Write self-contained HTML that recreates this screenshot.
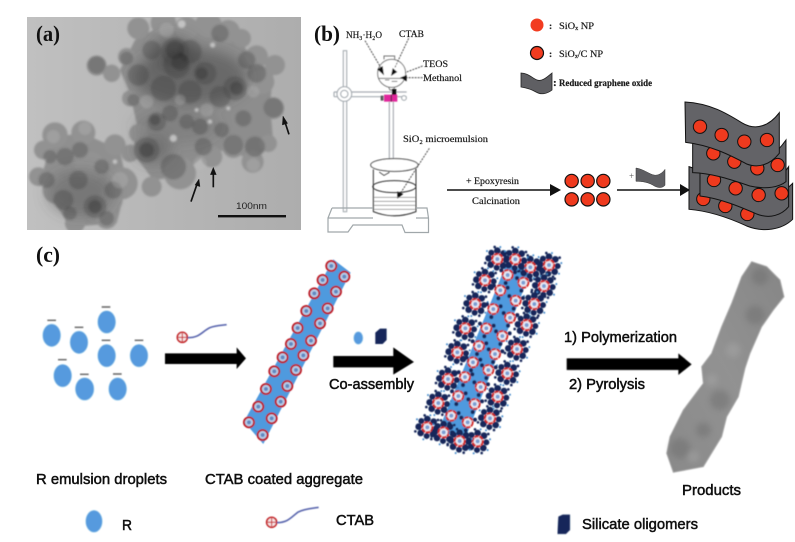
<!DOCTYPE html>
<html><head><meta charset="utf-8"><style>
html,body{margin:0;padding:0;background:#fff;width:795px;height:542px;overflow:hidden}
svg{display:block}
.s{font-family:"Liberation Serif",serif}
.a{font-family:"Liberation Sans",sans-serif;fill:#111;stroke:#111;stroke-width:.5}
</style></head><body>
<svg width="795" height="542" viewBox="0 0 795 542" xmlns="http://www.w3.org/2000/svg">
<defs>
<filter id="b3" x="-10%" y="-10%" width="120%" height="120%"><feGaussianBlur stdDeviation="3"/></filter>
<filter id="b1" x="-5%" y="-5%" width="110%" height="110%"><feGaussianBlur stdDeviation="1.2"/></filter>
<filter id="t" x="-5%" y="-20%" width="110%" height="140%"><feGaussianBlur stdDeviation=".35"/></filter>
<filter id="b8" x="-30%" y="-30%" width="160%" height="160%"><feGaussianBlur stdDeviation="9"/></filter>
<filter id="b20" x="-30%" y="-30%" width="160%" height="160%"><feGaussianBlur stdDeviation="20"/></filter>
<linearGradient id="bg" x1="0" y1="0" x2="1" y2="0"><stop offset="0" stop-color="#c0c0c0"/><stop offset=".5" stop-color="#b6b6b6"/><stop offset="1" stop-color="#adadad"/></linearGradient>
<linearGradient id="pr" x1="1" y1="0" x2="0" y2="1"><stop offset="0" stop-color="#868686"/><stop offset=".5" stop-color="#929292"/><stop offset="1" stop-color="#8a8a8a"/></linearGradient>
<g id="ct"><circle r="15" fill="#b6cdea" stroke="#bd1f26" stroke-width="6"/><circle r="6" fill="#6288c0"/></g>
<g id="ri"><circle r="15" fill="#e8ebf6" stroke="#d42a26" stroke-width="6" stroke-dasharray="13 2"/><circle r="6" fill="#7a9dd2"/></g>
<g id="si">
<g fill="#14285a"><circle cx="0" cy="-25" r="10"/><circle cx="19" cy="-17" r="10"/><circle cx="26" cy="3" r="9"/><circle cx="17" cy="20" r="10"/><circle cx="-2" cy="26" r="9"/><circle cx="-20" cy="17" r="10"/><circle cx="-26" cy="-2" r="10"/><circle cx="-18" cy="-19" r="9"/></g>
<g fill="#14285a"><circle cx="-8" cy="-36" r="4"/><circle cx="32" cy="-22" r="4"/><circle cx="-36" cy="12" r="4"/><circle cx="12" cy="35" r="4"/></g>
<g fill="#3f86c9"><circle cx="9" cy="-36" r="3"/><circle cx="37" cy="-6" r="3"/><circle cx="-31" cy="-24" r="3"/><circle cx="-12" cy="36" r="3"/><circle cx="30" cy="26" r="3"/></g>
<use href="#ri"/>
</g>
<g id="sm"><g fill="#14285a"><circle cx="-19" cy="-14" r="6"/><circle cx="22" cy="-8" r="6"/><circle cx="-6" cy="24" r="6"/></g><use href="#ri"/></g>
</defs>

<!-- (a) TEM image -->
<rect x="27" y="17" width="274" height="213" fill="url(#bg)"/>
<g transform="translate(20,10) scale(.3333)">
<svg x="22" y="22" width="820" height="638" viewBox="22 22 820 638">
<g filter="url(#b3)">
<path d="M345,90 L420,50 L640,50 L690,140 L760,190 L750,280 L760,400 L700,450 L620,420 L560,430 L480,500 L400,510 L340,430 L350,340 L330,250 L300,180Z" fill="#8d8d8d"/>
<path d="M70,480 L100,380 L190,370 L300,420 L320,520 L290,640 L150,650 L80,540Z" fill="#8f8f8f"/>
<g fill="#929292">
<circle cx="355" cy="55" r="33"/><circle cx="430" cy="38" r="38"/><circle cx="500" cy="55" r="35"/><circle cx="565" cy="45" r="40"/><circle cx="625" cy="65" r="35"/><circle cx="665" cy="85" r="28"/>
<circle cx="230" cy="167" r="30"/><circle cx="320" cy="140" r="26"/><circle cx="275" cy="190" r="26"/><circle cx="710" cy="140" r="34"/><circle cx="765" cy="165" r="30"/><circle cx="725" cy="215" r="38"/><circle cx="760" cy="295" r="32"/><circle cx="745" cy="400" r="26"/><circle cx="698" cy="455" r="33"/><circle cx="640" cy="410" r="34"/><circle cx="575" cy="440" r="32"/><circle cx="480" cy="490" r="48"/><circle cx="395" cy="530" r="30"/><circle cx="330" cy="430" r="26"/><circle cx="355" cy="370" r="28"/><circle cx="330" cy="265" r="24"/>
<circle cx="190" cy="368" r="36"/><circle cx="105" cy="375" r="38"/><circle cx="285" cy="405" r="32"/><circle cx="70" cy="420" r="28"/><circle cx="55" cy="500" r="28"/><circle cx="210" cy="470" r="45"/><circle cx="305" cy="520" r="48"/><circle cx="110" cy="540" r="42"/><circle cx="270" cy="570" r="38"/><circle cx="165" cy="640" r="30"/><circle cx="260" cy="625" r="32"/>
</g>
</g>
<g filter="url(#b20)" fill="#4a4a4a">
<ellipse cx="510" cy="200" rx="170" ry="85" fill-opacity=".55"/>
<ellipse cx="460" cy="130" rx="70" ry="55" fill-opacity=".45"/>
<ellipse cx="470" cy="350" rx="130" ry="50" fill-opacity=".2"/>
<ellipse cx="400" cy="420" rx="55" ry="40" fill-opacity=".4"/>
<ellipse cx="180" cy="550" rx="100" ry="70" fill-opacity=".35"/>
</g>
<g filter="url(#b3)">
<g fill="#3c3c3c" fill-opacity=".3">
<circle cx="465" cy="125" r="42"/><circle cx="510" cy="125" r="35"/><circle cx="470" cy="165" r="40"/><circle cx="355" cy="195" r="32"/><circle cx="645" cy="235" r="36"/><circle cx="555" cy="190" r="34"/><circle cx="600" cy="260" r="32"/><circle cx="410" cy="335" r="28"/><circle cx="380" cy="420" r="38"/><circle cx="460" cy="470" r="38"/><circle cx="640" cy="405" r="30"/><circle cx="705" cy="410" r="30"/><circle cx="670" cy="325" r="24"/><circle cx="500" cy="335" r="22"/><circle cx="605" cy="360" r="22"/><circle cx="710" cy="190" r="28"/><circle cx="430" cy="235" r="38"/><circle cx="510" cy="245" r="35"/><circle cx="760" cy="293" r="30"/><circle cx="600" cy="70" r="26"/><circle cx="395" cy="120" r="28"/><circle cx="680" cy="150" r="26"/><circle cx="540" cy="350" r="24"/><circle cx="450" cy="310" r="24"/><circle cx="550" cy="410" r="26"/><circle cx="340" cy="270" r="18"/><circle cx="320" cy="145" r="20"/><circle cx="230" cy="165" r="26"/>
<circle cx="225" cy="590" r="34"/><circle cx="130" cy="570" r="30"/><circle cx="175" cy="510" r="28"/><circle cx="135" cy="440" r="26"/><circle cx="245" cy="470" r="22"/><circle cx="80" cy="510" r="24"/><circle cx="180" cy="420" r="24"/><circle cx="90" cy="440" r="20"/><circle cx="280" cy="540" r="26"/><circle cx="260" cy="625" r="22"/><circle cx="150" cy="610" r="20"/>
</g>
<g fill="#2a2a2a" fill-opacity=".35">
<circle cx="465" cy="120" r="28"/><circle cx="480" cy="155" r="26"/><circle cx="650" cy="235" r="20"/><circle cx="380" cy="420" r="22"/><circle cx="225" cy="590" r="20"/><circle cx="405" cy="330" r="16"/><circle cx="545" cy="190" r="18"/>
</g>
<g fill="#bdbdbd" fill-opacity=".28">
<circle cx="440" cy="60" r="22"/><circle cx="700" cy="245" r="18"/><circle cx="560" cy="300" r="20"/><circle cx="480" cy="270" r="16"/><circle cx="380" cy="275" r="20"/><circle cx="540" cy="460" r="20"/><circle cx="700" cy="465" r="20"/><circle cx="300" cy="510" r="24"/><circle cx="100" cy="380" r="20"/><circle cx="195" cy="355" r="20"/>
</g>
<g fill="#d4d4d4" fill-opacity=".75">
<circle cx="485" cy="42" r="12"/><circle cx="578" cy="105" r="8"/><circle cx="460" cy="385" r="11"/><circle cx="570" cy="335" r="7"/><circle cx="530" cy="300" r="6"/><circle cx="285" cy="455" r="7"/><circle cx="625" cy="295" r="6"/>
</g>
</g>
</svg>
<g stroke="#111" fill="#111">
<path d="M807,373 L793,330" stroke-width="5"/><path d="M789,318 L803,340 L787,345Z"/>
<path d="M580,532 V485" stroke-width="5"/><path d="M580,472 L589,494 L571,494Z"/>
<path d="M513,575 L532,520" stroke-width="5"/><path d="M537,507 L540,530 L525,525Z"/>
</g>
</g>
<rect x="218" y="215" width="68" height="2.4" fill="#111"/>
<text x="236" y="209" font-family="Liberation Sans,sans-serif" font-size="9.5" textLength="31" lengthAdjust="spacingAndGlyphs" fill="#222" filter="url(#t)">100nm</text>
<text class="s" x="36" y="41" font-size="22" font-weight="bold" textLength="24" lengthAdjust="spacingAndGlyphs" fill="#111">(a)</text>
<text class="s" x="314" y="41" font-size="22" font-weight="bold" textLength="26" lengthAdjust="spacingAndGlyphs" fill="#111">(b)</text>
<text class="s" x="36" y="262" font-size="22" font-weight="bold" textLength="24" lengthAdjust="spacingAndGlyphs" fill="#111">(c)</text>

<!-- (b) apparatus -->
<g transform="translate(310,10) scale(.3333)" fill="none" filter="url(#b1)">
<g stroke="#a7adb3" stroke-width="3.5">
<path d="M100,122 V605 H110 V122 Z" fill="#fff"/>
<path d="M72,246 H290 M72,260 H290 M72,246 V260"/>
<circle cx="103" cy="252" r="22" fill="#fff"/><circle cx="103" cy="252" r="11" fill="#fff"/>
<path d="M238,275 V445 M250,275 V445"/>
<circle cx="282" cy="264" r="7" fill="#fff"/>
<circle cx="218" cy="264" r="5" fill="#fff"/>
</g>
<g stroke="#777" stroke-width="3">
<circle cx="245" cy="190" r="42" fill="#fff"/>
<path d="M222,148 V138 H254 V148 M205,205 H285"/>
<path d="M236,232 L240,240 H250 L254,232"/>
<path d="M225,210 H238 M245,214 H262"/>
</g>
<rect x="246" y="237" width="13" height="18" fill="#111"/>
<rect x="222" y="254" width="40" height="21" fill="#e0289c"/><rect x="212" y="257" width="8" height="15" fill="#555"/><path d="M244,254 V275" stroke="#333" stroke-width="3"/>
<g stroke="#333" stroke-width="2.5" stroke-dasharray="6 3">
<path d="M165,92 L212,172 M296,85 L255,172 M338,168 L285,188 M338,203 H290 M358,415 L268,555"/>
</g>
<g fill="#111">
<path d="M222,196 L202,178 L218,168Z M243,198 L248,174 L262,186Z M270,203 L290,195 L290,214Z M262,566 L262,544 L280,552Z"/>
</g>
<g stroke="#333" stroke-width="3">
<ellipse cx="253" cy="465" rx="71" ry="19" fill="#fff"/>
<path d="M190,478 L190,605 Q253,630 318,605 V478"/>
<ellipse cx="253" cy="530" rx="65" ry="18"/>
<path d="M192,562 H316 M192,574 H316 M192,586 H316 M192,598 H316" stroke-width="2" stroke="#777"/>
<path d="M208,486 L222,496 L238,487" fill="#fff"/>
</g>
</g>
<path d="M332,208 H373 M416,208 H427 L428.500,218 V232.500 H405 L402,225 H353 L348,232 H328 V218 L332,208 M328,218 H373 M416,218 H428" fill="none" stroke="#a0a7aa" stroke-width="1.2"/>

<g class="s" fill="#1a1a1a" stroke="#1a1a1a" stroke-width=".2" filter="url(#t)" font-size="9.5">
<text x="346" y="38" textLength="36" lengthAdjust="spacingAndGlyphs">NH₃·H₂O</text>
<text x="399" y="37" textLength="25" lengthAdjust="spacingAndGlyphs">CTAB</text>
<text x="423" y="67" textLength="25" lengthAdjust="spacingAndGlyphs">TEOS</text>
<text x="423" y="81" textLength="39" lengthAdjust="spacingAndGlyphs">Methanol</text>
<text x="403" y="142" textLength="85" lengthAdjust="spacingAndGlyphs">SiO₂  microemulsion</text>
<text x="466" y="184" textLength="53" lengthAdjust="spacingAndGlyphs">+ Epoxyresin</text>
<text x="472" y="204" textLength="48" lengthAdjust="spacingAndGlyphs">Calcination</text>
<text x="549" y="29" font-weight="bold">:</text>
<text x="559" y="29" textLength="35" lengthAdjust="spacingAndGlyphs">SiOₓ  NP</text>
<text x="549" y="57" font-weight="bold">:</text>
<text x="559" y="57" textLength="44" lengthAdjust="spacingAndGlyphs">SiOₓ/C  NP</text>
<text x="553" y="86" font-weight="bold" font-size="11">:</text>
<text x="559" y="86" font-weight="bold" textLength="93" lengthAdjust="spacingAndGlyphs">Reduced graphene oxide</text>
</g>

<path d="M447,190 H552" stroke="#111" stroke-width="1.5"/><path d="M550,184 L561,190 L550,196Z" fill="#111"/>
<path d="M617,190 H680" stroke="#111" stroke-width="1.5"/><path d="M680,184 L690,190 L680,196Z" fill="#111"/>
<text x="629" y="179" class="s" font-size="9" fill="#555">+</text>

<circle cx="537" cy="25" r="6.5" fill="#f23c20"/>
<circle cx="537" cy="53" r="6.5" fill="#f23c20" stroke="#111" stroke-width="1.2"/>
<path d="M521,73 C528,73 532,78 537,80 C542,82 547,77 552,73 V90 C547,94 541,95 536,92 C531,89 527,88 521,87Z" fill="#5f5f63" stroke="#222" stroke-width=".8"/>

<g transform="translate(550,10) scale(.3333)">
<g fill="#ef3a1e" stroke="#111" stroke-width="3.5">
<circle cx="65" cy="513" r="20"/><circle cx="113" cy="513" r="20"/><circle cx="160" cy="513" r="20"/>
<circle cx="65" cy="568" r="20"/><circle cx="113" cy="568" r="20"/><circle cx="160" cy="568" r="20"/>
</g>
<path d="M258,474 C285,478 305,500 322,495 C333,492 340,485 345,478 V526 C335,536 322,534 308,525 C292,516 275,514 258,514Z" fill="#5f5f63" stroke="#333" stroke-width="1.5"/>
<g stroke="#111" stroke-width="3">
<path d="M417,470 V598 C480,603 540,625 590,648 C640,668 695,660 728,628 V520 C690,560 640,580 590,560 C530,530 480,490 417,470Z" fill="#636367"/>
<g fill="#ef3a1e"><circle cx="460" cy="567" r="20"/><circle cx="526" cy="588" r="20"/><circle cx="592" cy="612" r="20"/></g>
<path d="M450,488 V558 C510,565 570,590 620,612 C660,628 695,615 716,590 V470 C690,510 650,535 610,510 C560,480 500,480 450,488Z" fill="#636367"/>
<g fill="#ef3a1e"><circle cx="492" cy="510" r="20"/><circle cx="557" cy="535" r="20"/><circle cx="626" cy="555" r="20"/><circle cx="695" cy="550" r="20"/></g>
<path d="M428,400 V488 C490,490 545,510 600,528 C650,540 690,530 708,515 V390 C680,430 640,465 600,445 C545,420 490,400 428,400Z" fill="#636367"/>
<g fill="#ef3a1e"><circle cx="490" cy="430" r="20"/><circle cx="553" cy="455" r="20"/><circle cx="622" cy="475" r="20"/><circle cx="683" cy="465" r="20"/></g>
<path d="M405,276 C480,280 530,310 575,338 C620,365 660,345 688,308 V430 C660,465 625,475 590,462 C540,435 480,405 407,397Z" fill="#636367"/>
<g fill="#ef3a1e"><circle cx="450" cy="350" r="20"/><circle cx="515" cy="375" r="20"/><circle cx="583" cy="395" r="20"/><circle cx="651" cy="390" r="20"/></g>
</g>
</g>

<!-- (c) -->
<g transform="translate(0,240) scale(.3333)" filter="url(#b1)">
<g fill="#569ade" stroke="#a6d4ee" stroke-width="2">
<ellipse cx="155" cy="286" rx="27" ry="34"/><ellipse cx="237" cy="307" rx="27" ry="34"/><ellipse cx="320" cy="246" rx="27" ry="34"/><ellipse cx="320" cy="347" rx="27" ry="34"/><ellipse cx="417" cy="347" rx="27" ry="34"/><ellipse cx="188" cy="407" rx="27" ry="34"/><ellipse cx="254" cy="447" rx="28" ry="34"/><ellipse cx="353" cy="447" rx="27" ry="34"/>
<ellipse cx="282" cy="844" rx="25" ry="33"/><ellipse cx="1075" cy="294" rx="14" ry="19"/>
</g>
<path d="M142,241 H168 M224,262 H250 M305,201 H331 M305,301 H331 M404,301 H430 M174,359 H200 M240,403 H266 M339,402 H365" stroke="#777" stroke-width="5"/>
<path d="M495,340 H710 V322 L738,355 L710,387 V372 H495Z" fill="#000"/>
<path d="M1000,348 H1180 V322 L1242,366 L1180,404 V382 H1000Z" fill="#000"/>
<path d="M1126,312 V278 L1140,266 H1160 V300 L1148,312Z" fill="#14285a"/>
<g>
<circle cx="547" cy="292" r="15" fill="#f6e6e6" stroke="#c5282c" stroke-width="5"/><path d="M547,280 V304 M535,292 H559" stroke="#c5282c" stroke-width="3"/>
<path d="M563,293 C600,293 605,275 630,263 C645,257 665,256 680,254" fill="none" stroke="#5e6bb0" stroke-width="5"/>
<circle cx="815" cy="847" r="15" fill="#f6e6e6" stroke="#c5282c" stroke-width="5"/><path d="M815,835 V859 M803,847 H827" stroke="#c5282c" stroke-width="3"/>
<path d="M831,848 C865,848 875,830 895,816 C915,806 935,806 956,802" fill="none" stroke="#5e6bb0" stroke-width="5"/>
</g>
<path d="M732,545 L1000,58 L1052,98 L790,612Z" fill="#4f9ade"/>
<g>
<use href="#ct" x="747" y="547"/><use href="#ct" x="775" y="500"/><use href="#ct" x="798" y="447"/><use href="#ct" x="823" y="394"/><use href="#ct" x="848" y="352"/><use href="#ct" x="873" y="312"/><use href="#ct" x="893" y="264"/><use href="#ct" x="919" y="213"/><use href="#ct" x="943" y="160"/><use href="#ct" x="968" y="120"/><use href="#ct" x="994" y="78"/>
<use href="#ct" x="788" y="585"/><use href="#ct" x="815" y="535"/><use href="#ct" x="842" y="485"/><use href="#ct" x="862" y="438"/><use href="#ct" x="888" y="390"/><use href="#ct" x="910" y="346"/><use href="#ct" x="933" y="302"/><use href="#ct" x="960" y="250"/><use href="#ct" x="983" y="205"/><use href="#ct" x="1008" y="155"/><use href="#ct" x="1033" y="110"/>
</g>
</g>

<g transform="translate(350,240) scale(.3333)" filter="url(#b1)">
<path d="M270,560 L470,70 L540,100 L340,610Z" fill="#4f9ade"/>
<use href="#si" x="442" y="57"/><use href="#si" x="541" y="82"/><use href="#si" x="597" y="75"/><use href="#si" x="405" y="121"/><use href="#si" x="582" y="138"/><use href="#si" x="376" y="192"/><use href="#si" x="553" y="192"/><use href="#si" x="346" y="265"/><use href="#si" x="530" y="255"/><use href="#si" x="322" y="337"/><use href="#si" x="501" y="327"/><use href="#si" x="294" y="417"/><use href="#si" x="472" y="400"/><use href="#si" x="265" y="489"/><use href="#si" x="443" y="470"/><use href="#si" x="232" y="562"/><use href="#si" x="420" y="535"/><use href="#si" x="281" y="577"/><use href="#si" x="383" y="604"/><use href="#si" x="329" y="603"/><use href="#si" x="496" y="58"/>
<use href="#sm" x="473" y="105"/><use href="#sm" x="520" y="128"/><use href="#sm" x="451" y="151"/><use href="#sm" x="497" y="182"/><use href="#sm" x="430" y="207"/><use href="#sm" x="480" y="233"/><use href="#sm" x="409" y="265"/><use href="#sm" x="457" y="288"/><use href="#sm" x="387" y="318"/><use href="#sm" x="435" y="342"/><use href="#sm" x="369" y="367"/><use href="#sm" x="415" y="390"/><use href="#sm" x="345" y="411"/><use href="#sm" x="392" y="441"/><use href="#sm" x="325" y="468"/><use href="#sm" x="374" y="492"/><use href="#sm" x="304" y="527"/><use href="#sm" x="353" y="547"/>
<path d="M650,355 H985 V340 L1025,373 L985,405 V390 H650Z" fill="#000"/>
<path d="M625,830 L638,824 H660 V870 L648,882 H622Z" fill="#14285a"/>
<path d="M1205,65 L1250,80 L1290,120 L1302,170 L1270,210 L1235,260 L1200,340 L1185,385 L1165,470 L1130,530 L1115,590 L1060,680 L970,697 L950,640 L960,590 L1000,510 L1060,430 L1055,380 L1085,340 L1115,260 L1145,190 L1175,110Z" fill="url(#pr)" stroke="#aaa" stroke-width="3"/>
<g fill="#6c6c6c" filter="url(#b8)" opacity=".45">
<circle cx="1215" cy="225" r="28"/><circle cx="1230" cy="110" r="25"/><circle cx="1110" cy="480" r="30"/><circle cx="990" cy="625" r="30"/><circle cx="1060" cy="570" r="22"/>
</g>
<g fill="#b0b0b0" filter="url(#b8)" opacity=".35">
<circle cx="1150" cy="330" r="22"/><circle cx="1085" cy="420" r="18"/><circle cx="1030" cy="650" r="18"/>
</g>
</g>

<g class="a" filter="url(#t)" font-size="15">
<text x="36" y="484" textLength="131" lengthAdjust="spacingAndGlyphs">R emulsion droplets</text>
<text x="205" y="484" textLength="158" lengthAdjust="spacingAndGlyphs">CTAB coated aggregate</text>
<text x="122" y="530" textLength="10" lengthAdjust="spacingAndGlyphs">R</text>
<text x="336" y="525" textLength="38" lengthAdjust="spacingAndGlyphs">CTAB</text>
<text x="329" y="389" textLength="85" lengthAdjust="spacingAndGlyphs">Co-assembly</text>
<text x="564" y="342" textLength="113" lengthAdjust="spacingAndGlyphs">1) Polymerization</text>
<text x="569" y="389" textLength="76" lengthAdjust="spacingAndGlyphs">2) Pyrolysis</text>
<text x="682" y="495" textLength="59" lengthAdjust="spacingAndGlyphs">Products</text>
<text x="582" y="529" textLength="116" lengthAdjust="spacingAndGlyphs">Silicate oligomers</text>
</g>
</svg>
</body></html>
